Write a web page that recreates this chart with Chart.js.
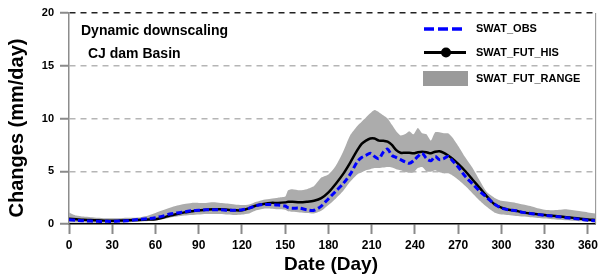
<!DOCTYPE html>
<html>
<head>
<meta charset="utf-8">
<script src="https://cdn.jsdelivr.net/npm/chart.js@4"></script>
<style>
  body { margin: 0; background: #fff; }
  #wrap { width: 602px; height: 278px; }
</style>
</head>
<body>
<div id="wrap"><canvas id="grafico" width="602" height="278"></canvas></div>
<script>
// day of year for every sample
const days = [
  0, 5, 10, 15, 20, 25, 30, 35, 40, 45,
  50, 55, 60, 65, 70, 75, 80, 85, 90, 95,
  100, 105, 110, 115, 120, 125, 130, 135, 140, 145,
  150, 152, 155, 160, 165, 170, 175, 180, 185, 190,
  195, 200, 203, 206, 209, 212, 215, 218, 221, 224,
  227, 230, 233, 236, 239, 242, 245, 248, 251, 254,
  257, 260, 263, 266, 270, 275, 280, 285, 290, 295,
  300, 305, 310, 315, 320, 325, 330, 335, 340, 345,
  350, 355, 360, 365
];

const swatObs = [
  0.4, 0.35, 0.3, 0.28, 0.25, 0.25, 0.25, 0.28, 0.3, 0.38,
  0.45, 0.5, 0.6, 0.75, 0.95, 1.05, 1.15, 1.25, 1.3, 1.35,
  1.35, 1.35, 1.3, 1.3, 1.35, 1.5, 1.75, 1.85, 1.85, 1.8,
  1.7, 1.55, 1.5, 1.5, 1.35, 1.3, 1.7, 2.4, 3.1, 3.8,
  4.7, 5.9, 6.3, 6.5, 6.7, 6.4, 6.2, 6.8, 7.1, 6.5,
  6.3, 6.1, 5.9, 5.75, 6.0, 6.4, 6.7, 6.2, 6.0, 6.4,
  6.1, 6.2, 6.4, 6.0, 5.4, 4.5, 3.8, 3.1, 2.5, 1.9,
  1.5, 1.35, 1.25, 1.1, 1.0, 0.9, 0.82, 0.75, 0.68, 0.6,
  0.52, 0.45, 0.35, 0.3
];

const swatFutHis = [
  0.5, 0.45, 0.4, 0.38, 0.35, 0.32, 0.3, 0.32, 0.35, 0.38,
  0.4, 0.42, 0.45, 0.6, 0.8, 0.95, 1.1, 1.2, 1.3, 1.35,
  1.4, 1.4, 1.35, 1.3, 1.3, 1.5, 1.75, 1.9, 2.0, 2.0,
  2.05, 2.1, 2.1, 2.05, 2.1, 2.2, 2.45, 3.0, 3.8, 4.7,
  5.8, 7.0, 7.6, 7.9, 8.1, 8.1, 7.9, 7.9, 7.8, 7.5,
  7.0, 6.75, 6.75, 6.75, 6.7, 6.8, 6.85, 6.8, 6.7, 6.85,
  6.9, 6.75, 6.5, 6.2, 5.7, 5.0, 4.2, 3.4, 2.6, 1.9,
  1.55, 1.35, 1.25, 1.1, 1.0, 0.92, 0.85, 0.78, 0.72, 0.65,
  0.58, 0.5, 0.42, 0.38
];

// upper and lower edge of the future range band
const rangeMax = [
  1.1, 0.8, 0.7, 0.65, 0.6, 0.55, 0.55, 0.55, 0.6, 0.6,
  0.65, 0.8, 1.05, 1.3, 1.55, 1.75, 1.9, 2.0, 2.0, 2.0,
  2.05, 2.0, 1.95, 1.85, 1.8, 1.85, 2.1, 2.3, 2.4, 2.5,
  2.6, 3.2, 3.3, 3.2, 3.3, 3.6, 4.4, 4.7, 5.5, 6.8,
  8.4, 9.3, 9.7, 10.1, 10.5, 10.8, 10.6, 10.3, 10.0, 9.4,
  8.8, 8.4, 8.5, 8.8, 8.5, 9.1, 8.6, 8.5, 7.9, 8.7,
  8.7, 8.6, 8.6, 8.2, 7.4, 6.3, 5.3, 4.1, 3.0, 2.5,
  2.2, 2.1, 2.0, 1.85, 1.7, 1.5, 1.35, 1.3, 1.35, 1.4,
  1.3, 1.2, 1.1, 1.0
];

const rangeMin = [
  0.15, 0.15, 0.15, 0.12, 0.12, 0.12, 0.1, 0.12, 0.15, 0.18,
  0.22, 0.28, 0.32, 0.45, 0.6, 0.7, 0.8, 0.85, 0.9, 0.95,
  0.95, 0.95, 0.9, 0.85, 0.9, 1.0, 1.3, 1.45, 1.45, 1.4,
  1.35, 1.2, 1.15, 1.1, 1.05, 1.0, 1.25, 1.8, 2.4, 3.1,
  4.0, 4.7, 4.9, 5.1, 5.2, 5.3, 5.3, 5.35, 5.4, 5.35,
  5.2, 5.1, 4.95, 4.85, 4.9, 5.3, 5.4, 5.0, 4.95, 5.1,
  4.9, 4.8, 4.8, 4.6, 4.2, 3.6, 2.9, 2.2, 1.6, 1.1,
  0.9, 0.85, 0.75, 0.7, 0.65, 0.58, 0.52, 0.45, 0.4, 0.35,
  0.3, 0.25, 0.2, 0.15
];

const xTicks = [0, 30, 60, 90, 120, 150, 180, 210, 240, 270, 300, 330, 360];
const yTicks = [0, 5, 10, 15, 20];

const titleX = 'Date (Day)';
const titleY = 'Changes (mm/day)';
const notes = ['Dynamic downscaling', 'CJ dam Basin'];
const legendNames = ['SWAT_OBS', 'SWAT_FUT_HIS', 'SWAT_FUT_RANGE'];

function pares(valores) {
  return valores.map((v, i) => ({ x: days[i], y: v }));
}

// titles, notes and the legend box drawn on top
const extras = {
  id: 'extras',
  afterDraw(chart) {
    const ctx = chart.ctx;
    const area = chart.chartArea;
    ctx.save();

    // right frame line
    ctx.strokeStyle = '#8c8c8c';
    ctx.lineWidth = 1;
    ctx.beginPath();
    ctx.moveTo(area.right + 0.5, area.top);
    ctx.lineTo(area.right + 0.5, area.bottom);
    ctx.stroke();

    ctx.fillStyle = '#000';
    ctx.textBaseline = 'middle';

    // axis titles
    ctx.font = 'bold 20px "Liberation Sans", Arial, sans-serif';
    ctx.textAlign = 'center';
    ctx.save();
    ctx.translate(17, 128);
    ctx.rotate(-Math.PI / 2);
    ctx.fillText(titleY, 0, 0);
    ctx.restore();
    ctx.font = 'bold 19px "Liberation Sans", Arial, sans-serif';
    ctx.fillText(titleX, 331, 265);

    // notes
    ctx.textAlign = 'left';
    ctx.font = 'bold 14px "Liberation Sans", Arial, sans-serif';
    ctx.fillText(notes[0], 81, 31);
    ctx.fillText(notes[1], 88, 54);

    // legend
    ctx.font = 'bold 11px "Liberation Sans", Arial, sans-serif';
    ctx.strokeStyle = '#0000ff';
    ctx.lineWidth = 3.5;
    ctx.setLineDash([10, 4]);
    ctx.beginPath();
    ctx.moveTo(424, 29);
    ctx.lineTo(466, 29);
    ctx.stroke();
    ctx.setLineDash([]);
    ctx.strokeStyle = '#000';
    ctx.lineWidth = 3;
    ctx.beginPath();
    ctx.moveTo(424, 52.5);
    ctx.lineTo(466, 52.5);
    ctx.stroke();
    ctx.beginPath();
    ctx.arc(446, 52.5, 5, 0, Math.PI * 2);
    ctx.fill();
    ctx.fillStyle = '#9a9a9a';
    ctx.fillRect(423, 71, 45, 15);
    ctx.fillStyle = '#000';
    ctx.fillText(legendNames[0], 476, 29);
    ctx.fillText(legendNames[1], 476, 53);
    ctx.fillText(legendNames[2], 476, 79);

    ctx.restore();
  }
};

let grafico = new Chart(document.getElementById('grafico'), {
  type: 'line',
  data: {
    datasets: [
      {
        label: legendNames[0],
        data: pares(swatObs),
        borderColor: '#0000ff',
        borderWidth: 3,
        borderDash: [6, 3],
        pointRadius: 0,
        tension: 0.3,
        fill: false
      },
      {
        label: legendNames[1],
        data: pares(swatFutHis),
        borderColor: '#000000',
        borderWidth: 2.5,
        pointRadius: 0,
        tension: 0.3,
        fill: false
      },
      {
        label: legendNames[2],
        data: pares(rangeMax),
        borderWidth: 0,
        borderColor: 'rgba(0,0,0,0)',
        backgroundColor: '#acacac',
        pointRadius: 0,
        tension: 0.2,
        fill: '+1'
      },
      {
        label: 'min',
        data: pares(rangeMin),
        borderWidth: 0,
        borderColor: 'rgba(0,0,0,0)',
        pointRadius: 0,
        tension: 0.2,
        fill: false
      }
    ]
  },
  options: {
    responsive: false,
    animation: false,
    events: [],
    layout: {
      padding: { top: 13, right: 3, left: 0, bottom: 0 }
    },
    plugins: {
      legend: { display: false },
      title: { display: false },
      tooltip: { enabled: false }
    },
    scales: {
      x: {
        type: 'linear',
        min: 0,
        max: 365,
        afterFit: (s) => { s.height = 54; },
        afterBuildTicks: (s) => { s.ticks = xTicks.map(v => ({ value: v })); },
        ticks: {
          includeBounds: false,
          padding: 4,
          color: '#000',
          font: { family: '"Liberation Sans", Arial, sans-serif', size: 12, weight: 'bold' },
          maxRotation: 0
        },
        grid: {
          drawOnChartArea: false,
          drawTicks: true,
          tickLength: 10,
          tickColor: '#8a8a8a',
          tickWidth: 2
        },
        border: { display: true, color: '#000', width: 1.5 }
      },
      y: {
        min: 0,
        max: 20,
        afterFit: (s) => { s.width = 69; },
        afterBuildTicks: (s) => { s.ticks = yTicks.map(v => ({ value: v })); },
        ticks: {
          padding: 6,
          color: '#000',
          font: { family: '"Liberation Sans", Arial, sans-serif', size: 11, weight: 'bold' }
        },
        grid: {
          color: (c) => {
            if (c.tick.value === 0) return 'rgba(0,0,0,0)';
            if (c.tick.value === 20) return '#222';
            return '#b5b5b5';
          },
          lineWidth: 1.5,
          tickLength: 9,
          tickColor: '#8a8a8a',
          tickWidth: 2,
          tickBorderDash: []
        },
        border: { display: true, color: '#8c8c8c', width: 1.5, dash: [6, 5] }
      }
    }
  },
  plugins: [extras]
});
</script>
</body>
</html>
